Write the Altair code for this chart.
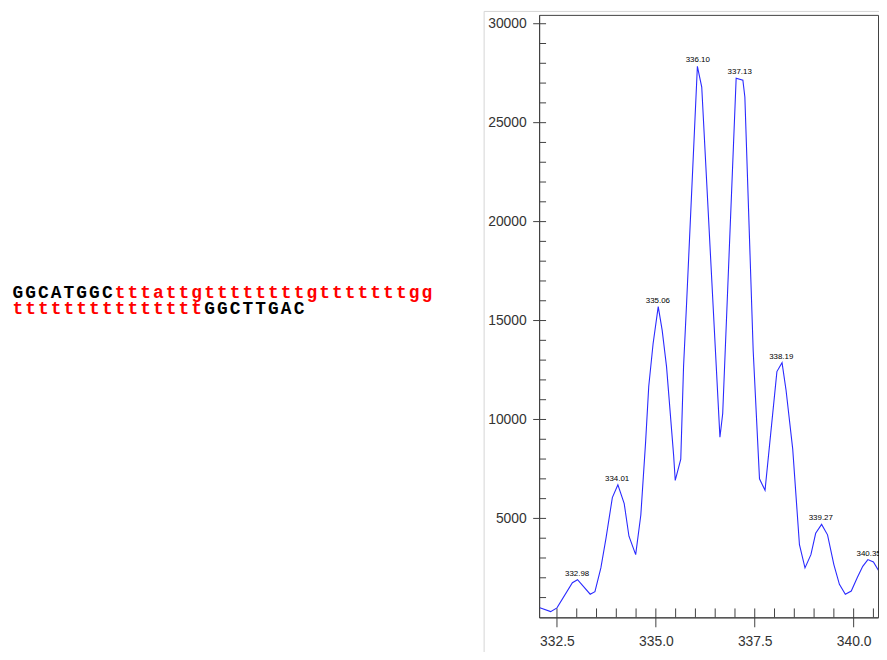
import altair as alt
import pandas as pd

# ---- spectrum (m/z vs intensity) ----
mz = [332.05, 332.34, 332.50, 332.89, 333.02, 333.34, 333.46, 333.61, 333.74, 333.90,
      334.04, 334.20, 334.32, 334.49, 334.62, 334.74, 334.82, 334.93, 335.06, 335.16,
      335.27, 335.45, 335.49, 335.63, 335.70, 335.78, 336.05, 336.16, 336.62, 336.69,
      337.03, 337.20, 337.25, 337.46, 337.62, 337.76, 338.06, 338.19, 338.29, 338.46,
      338.63, 338.77, 338.92, 339.04, 339.19, 339.34, 339.50, 339.64, 339.79, 339.94,
      340.09, 340.23, 340.36, 340.50, 340.64]
intensity = [500, 290, 480, 1750, 1900, 1170, 1300, 2500, 4000, 6050,
             6700, 5750, 4100, 3170, 5170, 8830, 11670, 13830, 15700, 14500,
             12670, 8170, 6920, 8000, 12670, 16000, 27850, 26800, 9100, 10300,
             27250, 27150, 26300, 13500, 7000, 6420, 12420, 12870, 11500, 8500,
             3670, 2500, 3170, 4250, 4700, 4170, 2670, 1670, 1170, 1330,
             2000, 2580, 2920, 2800, 2330]

# ---- peak annotations ----
peak_mz = [333.01, 334.02, 335.05, 336.06, 337.12, 338.17, 339.17, 340.38]
peak_int = [1900, 6700, 15700, 27850, 27250, 12870, 4700, 2920]
peak_text = ["332.98", "334.01", "335.06", "336.10", "337.13", "338.19", "339.27", "340.35"]

# ---- sequence text (left) ----
seq_parts = ["GGCATGGC", "tttattgttttttttgtttttttgg", "ttttttttttttttt", "GGCTTGAC"]
seq_colors = ["#000000", "#ff0000", "#ff0000", "#000000"]
seq_lines = [0, 0, 1, 1]

# ---- axis tick values ----
x_major = [332.5, 335.0, 337.5, 340.0]
x_minor = [333.0, 333.5, 334.0, 334.5, 335.5, 336.0, 336.5, 337.0, 338.0, 338.5, 339.0, 339.5, 340.5]
y_major = [5000, 10000, 15000, 20000, 25000, 30000]
y_minor = [v for v in range(1000, 31000, 1000) if v % 5000 != 0]

W, H = 342, 608
xs = alt.Scale(domain=[332.049, 340.616], nice=False, zero=False)
ys = alt.Scale(domain=[0, 30446], nice=False, zero=False)
xaxis = alt.Axis(values=x_major, format=".1f", ticks=False, tickSize=0, grid=False,
                 labelFont="Liberation Sans", labelFontSize=14, labelColor="#333333",
                 labelPadding=17, domainColor="#404040", title="", zindex=1)
yaxis = alt.Axis(values=y_major, format="d", ticks=False, tickSize=0, grid=False,
                 labelFont="Liberation Sans", labelFontSize=14, labelColor="#333333",
                 labelPadding=13, domainColor="#404040", title="", zindex=1)

def X(): return alt.X("mz:Q", scale=xs, axis=xaxis)
def Y(): return alt.Y("intensity:Q", scale=ys, axis=yaxis)

spec_df = pd.DataFrame({"mz": mz, "intensity": intensity})
peaks_df = pd.DataFrame({"mz": peak_mz, "intensity": peak_int, "label": peak_text})

# layout of the monospaced sequence: one glyph per cell
CHAR_W = 12.9
X0 = -532.6
BASE = [285.7, 301.7]
rows = []
col = {0: 0, 1: 0}
for t, c, ln in zip(seq_parts, seq_colors, seq_lines):
    for ch in t:
        rows.append({"t": ch, "c": c, "px": X0 + (col[ln] + 0.5) * CHAR_W, "py": BASE[ln]})
        col[ln] += 1

panel = alt.Chart(pd.DataFrame({"a": [0]})).mark_rect(
    fill="transparent", stroke="#d4d4d4", strokeWidth=1).encode(
    x=alt.value(-55.5), x2=alt.value(W + 20), y=alt.value(-3.5), y2=alt.value(H + 60))

line = alt.Chart(spec_df).mark_line(color="#2a2aff", strokeWidth=1.1, clip=True).encode(
    x=X(), y=Y())

labels = alt.Chart(peaks_df).mark_text(
    font="Liberation Sans", fontSize=8, color="#000000", baseline="alphabetic",
    align="center", dy=-4).encode(x=X(), y=Y(), text="label:N")

ytick_major = alt.Chart(pd.DataFrame({"intensity": y_major})).mark_rule(
    color="#404040", strokeWidth=1).encode(y=Y(), x=alt.value(-6), x2=alt.value(7))
ytick_minor = alt.Chart(pd.DataFrame({"intensity": y_minor})).mark_rule(
    color="#404040", strokeWidth=1).encode(y=Y(), x=alt.value(0), x2=alt.value(7))
xtick_major = alt.Chart(pd.DataFrame({"mz": x_major})).mark_rule(
    color="#404040", strokeWidth=1).encode(x=X(), y=alt.value(H - 9), y2=alt.value(H + 10))
xtick_minor = alt.Chart(pd.DataFrame({"mz": x_minor})).mark_rule(
    color="#404040", strokeWidth=1).encode(x=X(), y=alt.value(H - 9), y2=alt.value(H))

seq = alt.Chart(pd.DataFrame(rows)).mark_text(
    font="Liberation Mono", fontWeight="bold", fontSize=18, align="center",
    baseline="alphabetic").encode(
    x=alt.X("px:Q", scale=None, axis=None), y=alt.Y("py:Q", scale=None, axis=None),
    text="t:N", color=alt.Color("c:N", scale=None))

chart = alt.layer(panel, line, labels, ytick_major, ytick_minor, xtick_major, xtick_minor, seq).properties(
    width=W, height=H,
    padding={"left": 536, "top": 4, "right": 1, "bottom": 32},
    autosize="none",
    background="#ffffff",
).configure_view(stroke="#404040", strokeWidth=1)

chart.save("out.html", embed_options={"renderer": "svg", "actions": False})
